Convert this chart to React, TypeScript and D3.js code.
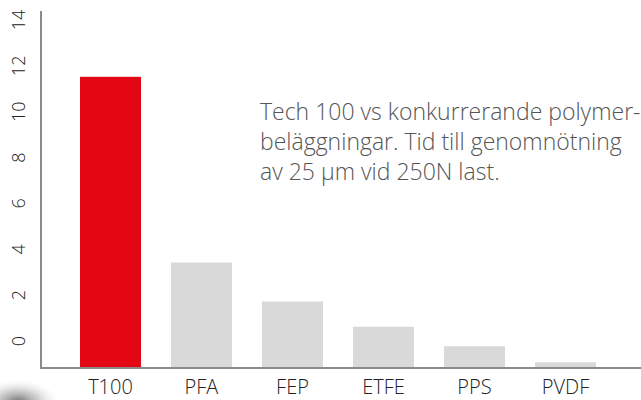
import React from "react";
import * as d3 from "d3";

const categories = ["T100", "PFA", "FEP", "ETFE", "PPS", "PVDF"];
const values = [12.7, 4.6, 2.9, 1.8, 0.95, 0.25];
const tickValues = [0, 2, 4, 6, 8, 10, 12, 14];
const title = [
  "Tech 100 vs konkurrerande polymer-",
  "beläggningar. Tid till genomnötning",
  "av 25 µm vid 250N last.",
];

const W = 641;
const H = 400;
const FONT = "'Open Sans', 'Liberation Sans', Arial, sans-serif";

export default function App() {
  const x = d3
    .scaleBand<string>()
    .domain(categories)
    .range([65, 611])
    .paddingInner(0.33)
    .paddingOuter(0.165);
  const y = d3.scaleLinear().domain([0, 14]).range([368, 47]);
  const labelShift = -27;

  return (
    <svg
      width={W}
      height={H}
      style={{ position: "absolute", left: 0, top: 0, background: "#fff" }}
    >
      <defs>
        <radialGradient id="blob" cx="0.45" cy="0.5" r="0.5">
          <stop offset="0" stopColor="#555" stopOpacity="0.85" />
          <stop offset="0.5" stopColor="#999" stopOpacity="0.5" />
          <stop offset="1" stopColor="#ddd" stopOpacity="0" />
        </radialGradient>
      </defs>
      <ellipse cx={22} cy={402} rx={40} ry={22} fill="url(#blob)" />
      {categories.map((c, i) => (
        <rect
          key={c}
          x={x(c)}
          y={y(values[i])}
          width={x.bandwidth()}
          height={y(0) - y(values[i])}
          fill={i === 0 ? "#e30613" : "#d9d9d9"}
        />
      ))}
      <line x1={41} x2={41} y1={11} y2={369} stroke="#8a8a8a" strokeWidth={2} />
      <line x1={40} x2={W} y1={368} y2={368} stroke="#8a8a8a" strokeWidth={2} />
      {tickValues.map((t) => (
        <text
          key={t}
          transform={`translate(25,${y(t) + labelShift}) rotate(-90)`}
          textAnchor="middle"
          fontFamily={FONT}
          fontWeight={300}
          fontSize={18}
          fill="#222"
        >
          {t}
        </text>
      ))}
      {categories.map((c) => (
        <text
          key={c}
          x={(x(c) as number) + x.bandwidth() / 2}
          y={394}
          textAnchor="middle"
          fontFamily={FONT}
          fontWeight={300}
          fontSize={20}
          fill="#222"
        >
          {c}
        </text>
      ))}
      {title.map((line, i) => (
        <text
          key={i}
          x={260}
          y={120 + i * 30}
          fontFamily={FONT}
          fontWeight={300}
          fontSize={23}
          fill="#555"
        >
          {line}
        </text>
      ))}
    </svg>
  );
}
